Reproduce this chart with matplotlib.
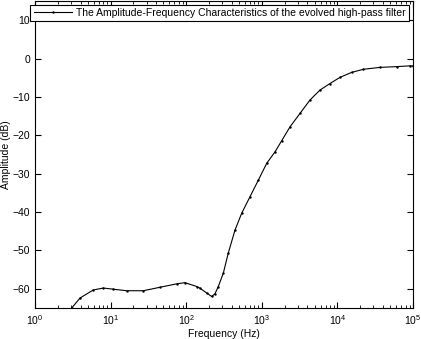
import numpy as np
import matplotlib
matplotlib.use('Agg')
import matplotlib.pyplot as plt

matplotlib.rcParams['font.family'] = 'sans-serif'
matplotlib.rcParams['font.sans-serif'] = ['Liberation Sans']

# values
freq = [3.06, 3.94, 5.9, 8.0, 10.9, 16.3, 27, 45, 75, 96, 138, 151, 187, 217,
        240, 266, 310, 360, 442, 542, 698, 899, 1161, 1497, 1834, 2360, 3200,
        4340, 5890, 7980, 10820, 15450, 22000, 36600, 60800, 91000, 100000]
amp = [-65.0, -62.4, -60.3, -59.8, -60.1, -60.5, -60.5, -59.6, -58.7, -58.4,
       -59.4, -59.8, -61.1, -62.0, -61.3, -59.4, -55.9, -50.7, -44.7, -40.3,
       -36.0, -31.7, -27.3, -24.3, -21.4, -17.8, -14.3, -10.8, -8.2, -6.5,
       -4.9, -3.6, -2.8, -2.3, -2.1, -1.9, -1.9]
yticks = [-60, -50, -40, -30, -20, -10, 0, 10]
label = 'The Amplitude-Frequency Characteristics of the evolved high-pass filter'

fig = plt.figure(figsize=(4.21, 3.39), dpi=100)
ax = fig.add_axes([35 / 421., 31 / 339., 378 / 421., 307 / 339.])

ax.semilogx(freq, amp, '.-', color='k', lw=0.8, markersize=1.5, label=label)
ax.set_xlim(1, 1e5)
ax.set_ylim(-65, 15)
ax.set_yticks(yticks)
ax.tick_params(which='both', direction='in', top=True, right=True, labelsize=7.5)
ax.tick_params(which='major', length=4)
ax.tick_params(which='minor', length=2)
ax.set_xlabel('Frequency (Hz)', fontsize=7.5, labelpad=2)
ax.set_ylabel('Amplitude (dB)', fontsize=7.5, labelpad=1)

leg = ax.legend(loc='upper right', bbox_to_anchor=(409 / 421., 334 / 339.),
                bbox_transform=fig.transFigure, fontsize=7.5, fancybox=False,
                framealpha=1, borderpad=0.3, handlelength=3.7,
                handletextpad=0.4, borderaxespad=0)
leg.get_frame().set_edgecolor('k')
leg.get_frame().set_linewidth(0.8)

fig.savefig('out.png', dpi=100)
